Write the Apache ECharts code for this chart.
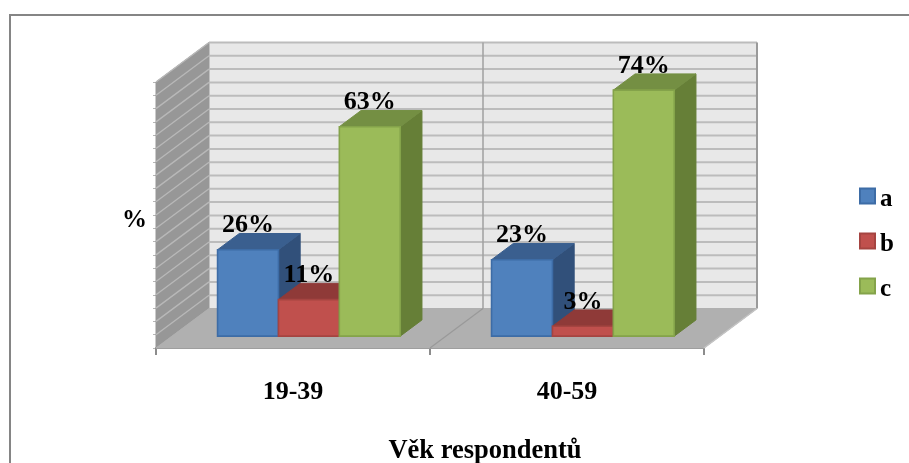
<!DOCTYPE html>
<html>
<head>
<meta charset="utf-8">
<style>html,body{margin:0;padding:0;background:#fff}#chart{width:909px;height:463px}</style>
<script src="https://cdn.jsdelivr.net/npm/echarts@6/dist/echarts.min.js"></script>
</head>
<body>
<div id="chart"></div>
<script>
const categories = ['19-39', '40-59'];
const seriesA = [26, 23];
const seriesB = [11, 3];
const seriesC = [63, 74];
const yTicks = [0, 4, 8, 12, 16, 20, 24, 28, 32, 36, 40, 44, 48, 52, 56, 60, 64, 68, 72, 76, 80];

const FONT = '"Liberation Serif", "Times New Roman", serif';

// Oblique projection: full depth of the plot box in pixels.
const DEPTH_X = 53;
const DEPTH_Y = 39.5;
// Bars occupy this slice of the box depth.
const BAR_NEAR = 0.3;
const BAR_FAR = 0.71;
// Bar width as a fraction of one category band.
const BAR_BAND = 1 / 4.5;

function lift(p, t) {
  return [p[0] + DEPTH_X * t, p[1] - DEPTH_Y * t];
}

function poly(points, fill, stroke, width) {
  return {
    type: 'polygon',
    shape: { points: points },
    style: { fill: fill, stroke: stroke || fill, lineWidth: width === undefined ? 1 : width }
  };
}

function seg(a, b, stroke, width) {
  return {
    type: 'line',
    shape: { x1: a[0], y1: a[1], x2: b[0], y2: b[1] },
    style: { stroke: stroke, lineWidth: width }
  };
}

// Walls and floor of the box, drawn once behind everything else.
function renderWalls(params, api) {
  const bandW = api.size([1, 0])[0];
  const cx0 = api.coord([0, 0])[0];
  const xL = cx0 - bandW / 2;
  const xM = xL + bandW;
  const xR = xL + bandW * 2;
  const y0 = api.coord([0, yTicks[0]])[1];
  const yT = api.coord([0, yTicks[yTicks.length - 1]])[1];
  const children = [];
  children.push(poly([lift([xL, y0], 1), lift([xR, y0], 1), lift([xR, yT], 1), lift([xL, yT], 1)], '#e8e8e8'));
  children.push(poly([[xL, y0], lift([xL, y0], 1), lift([xL, yT], 1), [xL, yT]], '#979797'));
  children.push(poly([[xL, y0], [xR, y0], lift([xR, y0], 1), lift([xL, y0], 1)], '#b0b0b0'));
  yTicks.forEach(function (v, i) {
    if (i === 0) return;
    const y = api.coord([0, v])[1];
    children.push(seg([xL, y], lift([xL, y], 1), '#b8b8b8', 1.4));
    children.push(seg(lift([xL, y], 1), lift([xR, y], 1), '#bcbcbc', 2));
  });
  children.push(seg(lift([xM, y0], 1), lift([xM, yT], 1), '#a0a0a0', 1.5));
  children.push(seg(lift([xR, y0], 1), lift([xR, yT], 1), '#9a9a9a', 2));
  children.push(seg([xM, y0], lift([xM, y0], 1), '#999999', 1.2));
  children.push(seg([xR, y0], lift([xR, y0], 1), '#c4c4c4', 1.5));
  return { type: 'group', children: children };
}

// One prism per value; offset picks the slot inside the category band.
function prismRenderer(offset, front, top, side, edge) {
  return function (params, api) {
    const bandW = api.size([1, 0])[0];
    const cat = api.value(0);
    const val = api.value(1);
    const base = api.coord([cat, 0]);
    const head = api.coord([cat, val]);
    const w = bandW * BAR_BAND;
    const xLeft = base[0] + (offset - 0.5) * w - w;
    const fbl = lift([xLeft, base[1]], BAR_NEAR);
    const fbr = lift([xLeft + w, base[1]], BAR_NEAR);
    const ftl = lift([xLeft, head[1]], BAR_NEAR);
    const ftr = lift([xLeft + w, head[1]], BAR_NEAR);
    const btl = lift([xLeft, head[1]], BAR_FAR);
    const btr = lift([xLeft + w, head[1]], BAR_FAR);
    const bbr = lift([xLeft + w, base[1]], BAR_FAR);
    return {
      type: 'group',
      children: [
        poly([ftr, btr, bbr, fbr], side, side, 1),
        poly([ftl, btl, btr, ftr], top, top, 1),
        poly([ftl, ftr, fbr, fbl], front, edge, 1.6),
        {
          type: 'text',
          z2: 100,
          style: {
            text: val + '%',
            x: (ftl[0] + ftr[0]) / 2,
            y: ftl[1] - 11,
            align: 'center',
            verticalAlign: 'bottom',
            fill: '#000',
            font: 'bold 26px ' + FONT
          }
        }
      ]
    };
  };
}

function barSeries(name, values, offset, front, top, side, edge) {
  return {
    name: name,
    type: 'custom',
    coordinateSystem: 'cartesian2d',
    itemStyle: { color: front, borderColor: edge, borderWidth: 2 },
    renderItem: prismRenderer(offset, front, top, side, edge),
    encode: { x: 0, y: 1 },
    clip: false,
    z: 3,
    data: values.map(function (v, i) { return [i, v]; })
  };
}

const chart = echarts.init(document.getElementById('chart'), null, { renderer: 'canvas' });
chart.setOption({
  animation: false,
  backgroundColor: '#ffffff',
  grid: { left: 156, top: 82, width: 548, height: 266, containLabel: false, outerBoundsMode: 'none' },
  graphic: [{
    type: 'polyline',
    silent: true,
    z: -1,
    shape: { points: [[10, 470], [10, 15], [909, 15]] },
    style: { fill: 'none', stroke: '#858585', lineWidth: 2 }
  }],
  legend: {
    orient: 'vertical',
    left: 859,
    top: 187.5,
    padding: 0,
    itemWidth: 15,
    itemHeight: 15,
    itemGap: 20,
    icon: 'rect',
    selectedMode: false,
    data: ['a', 'b', 'c'],
    formatter: function (name) { return '{t|' + name + '}'; },
    textStyle: {
      rich: { t: { fontFamily: FONT, fontWeight: 'bold', fontSize: 25, color: '#000', padding: [8, 0, 0, 0] } }
    }
  },
  xAxis: {
    type: 'category',
    data: categories,
    boundaryGap: true,
    name: 'Věk respondentů',
    nameLocation: 'middle',
    nameGap: 90,
    nameTextStyle: { fontFamily: FONT, fontWeight: 'bold', fontSize: 26.5, color: '#000', padding: [0, 0, 0, 110] },
    axisLine: { show: true, lineStyle: { color: '#8c8c8c', width: 2 } },
    axisTick: { show: true, alignWithLabel: false, length: 7, lineStyle: { color: '#8c8c8c', width: 2 } },
    axisLabel: { margin: 31, fontFamily: FONT, fontWeight: 'bold', fontSize: 26, color: '#000' },
    splitLine: { show: false }
  },
  yAxis: {
    type: 'value',
    min: 0,
    max: 80,
    interval: 4,
    name: '%',
    nameLocation: 'middle',
    nameRotate: 0,
    nameGap: 9,
    nameTextStyle: { fontFamily: FONT, fontWeight: 'bold', fontSize: 25, color: '#000', verticalAlign: 'top', lineHeight: 12 },
    axisLine: { show: false },
    axisTick: { show: true, length: 3, lineStyle: { color: '#b5b5b5', width: 1 } },
    axisLabel: { show: false },
    splitLine: { show: false }
  },
  series: [
    {
      type: 'custom',
      name: 'walls',
      coordinateSystem: 'cartesian2d',
      renderItem: renderWalls,
      encode: { x: 0, y: 1 },
      clip: false,
      silent: true,
      z: 1,
      data: [[0, 0]]
    },
    barSeries('a', seriesA, 0, '#4f81bd', '#3a5f8f', '#31507a', '#3d6ca6'),
    barSeries('b', seriesB, 1, '#c0504d', '#8f3a38', '#8a3836', '#a54441'),
    barSeries('c', seriesC, 2, '#9bbb59', '#748f43', '#667f37', '#84a34a')
  ]
});
</script>
</body>
</html>
